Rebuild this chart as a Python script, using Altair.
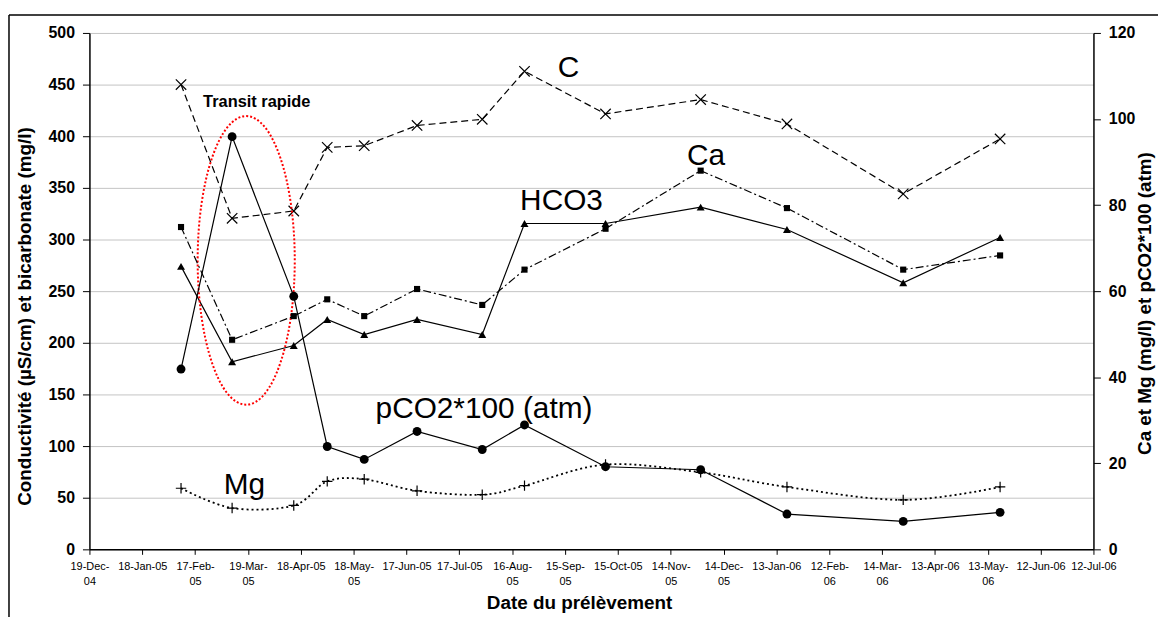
import json
import pandas as pd
import altair as alt

# ---------------- data ----------------
origin = "2004-12-19"
dates = ["2005-02-09", "2005-03-10", "2005-04-14", "2005-05-03", "2005-05-24",
         "2005-06-23", "2005-07-30", "2005-08-23", "2005-10-08", "2005-12-01",
         "2006-01-19", "2006-03-26", "2006-05-20"]
cond = [450, 320.5, 327.6, 389.2, 390.8, 410.4, 416.4, 462.9, 421.6, 435.5, 411.9, 344.2, 397.4]
hco3 = [274, 181.6, 197.4, 222.6, 208, 222.6, 208, 315.5, 315.5, 331.3, 309.7, 258.1, 302]
ca = [74.9, 48.7, 54.2, 58.1, 54.2, 60.5, 56.8, 65.0, 74.5, 88.0, 79.3, 65.0, 68.3]
mg = [14.2, 9.6, 10.2, 15.8, 16.3, 13.6, 12.7, 14.8, 19.7, 17.9, 14.5, 11.5, 14.5]
pco2 = [41.9, 95.9, 58.8, 23.9, 20.9, 27.4, 23.2, 28.9, 19.2, 18.5, 8.2, 6.5, 8.6]

tick_labels = ["19-Dec-|04", "18-Jan-05", "17-Feb-|05", "19-Mar-|05", "18-Apr-05",
               "18-May-|05", "17-Jun-05", "17-Jul-05", "16-Aug-|05", "15-Sep-|05",
               "15-Oct-05", "14-Nov-|05", "14-Dec-|05", "13-Jan-06", "12-Feb-|06",
               "14-Mar-|06", "13-Apr-06", "13-May-|06", "12-Jun-06", "12-Jul-06"]

big_labels = ["C", "Ca", "HCO3", "pCO2*100 (atm)", "Mg"]
big_label_dates = ["2005-09-17", "2005-12-04", "2005-09-13", "2005-07-31", "2005-03-17"]
big_label_values = [457.4, 372.3, 329, 127.3, 53.6]
note_text = ["Transit rapide"]
note_dates = ["2005-03-24"]
note_values = [428.6]
ellipse_dates = ["2005-03-18"]
ellipse_values = [279.8]

# ---------------- helpers ----------------
t0 = pd.Timestamp(origin)


def to_days(ds):
    return [(pd.Timestamp(d) - t0).days for d in ds]


days = to_days(dates)


def frame(vals):
    return pd.DataFrame({"day": days, "value": vals})


W, H = 1011, 520
FONT = "Liberation Sans, Arial, sans-serif"

label_expr = "split(" + json.dumps(tick_labels) + "[round(datum.value / 30)], '|')"

x_enc = alt.X(
    "day:Q",
    scale=alt.Scale(domain=[0, 570], nice=False, zero=False),
    axis=alt.Axis(
        values=list(range(0, 571, 30)), labelExpr=label_expr,
        title="Date du prélèvement", titleFont=FONT, titleFontSize=19,
        titleFontWeight="bold", titleColor="black", titleX=493, titleY=59.7,
        titleBaseline="alphabetic", titleAlign="center",
        labelFont=FONT, labelFontSize=11, labelLineHeight=15,
        labelColor="black", labelPadding=6, labelOverlap=False, labelFlush=False,
        tickColor="black", tickSize=5, tickWidth=1,
        domainColor="black", domainWidth=1.5, grid=False,
    ),
)

left_axis = alt.Axis(
    values=list(range(0, 501, 50)), orient="left",
    title="Conductivité (µS/cm) et bicarbonate (mg/l)", titleFont=FONT,
    titleFontSize=19, titleFontWeight="bold", titleColor="black",
    titleX=-65, titleY=285, titleAngle=270, titleBaseline="middle", titleAlign="center",
    labelFont=FONT, labelFontSize=16, labelFontWeight="bold", labelColor="black",
    labelPadding=8, tickColor="black", tickSize=7, tickWidth=1,
    domainColor="black", domainWidth=1.5,
    grid=True, gridColor="#c4c4c4", gridWidth=1,
)
right_axis = alt.Axis(
    values=list(range(0, 121, 20)), orient="right",
    title="Ca et Mg (mg/l) et pCO2*100 (atm)", titleFont=FONT,
    titleFontSize=19, titleFontWeight="bold", titleColor="black",
    titleX=51, titleY=272, titleAngle=270, titleBaseline="middle", titleAlign="center",
    labelFont=FONT, labelFontSize=16, labelFontWeight="bold", labelColor="black",
    labelPadding=8, tickColor="black", tickSize=7, tickWidth=1,
    domainColor="black", domainWidth=1.5, grid=False,
)


def yl():
    return alt.Y("value:Q", scale=alt.Scale(domain=[0, 500], nice=False), axis=left_axis)


def yr():
    return alt.Y("value:Q", scale=alt.Scale(domain=[0, 120], nice=False), axis=right_axis)


XPATH = "M-1,-1L1,1M-1,1L1,-1"
PLUS = "M-1,0L1,0M0,-1L0,1"
ELLIPSE = "M0,-1A0.3365,1,0,1,1,0,1A0.3365,1,0,1,1,0,-1Z"

one = pd.DataFrame({"a": [0]})
border_left = alt.Chart(one).mark_rule(color="black", strokeWidth=1.5).encode(
    x=alt.value(-81), x2=alt.value(-81), y=alt.value(-18), y2=alt.value(H + 70))
border_top = alt.Chart(one).mark_rule(color="black", strokeWidth=1.5).encode(
    x=alt.value(-81), x2=alt.value(W + 70), y=alt.value(-18), y2=alt.value(-18))

c_df, h_df = frame(cond), frame(hco3)
c_line = alt.Chart(c_df).mark_line(color="black", strokeWidth=1.2, strokeDash=[7, 4]).encode(x=x_enc, y=yl())
c_pts = alt.Chart(c_df).mark_point(shape=XPATH, size=110, filled=False, color="black",
                                   strokeWidth=1.2, opacity=1).encode(x=x_enc, y=yl())
h_line = alt.Chart(h_df).mark_line(color="black", strokeWidth=1.2).encode(x=x_enc, y=yl())
h_pts = alt.Chart(h_df).mark_point(shape="triangle-up", size=64, filled=True, color="black",
                                   opacity=1).encode(x=x_enc, y=yl())

ell_df = pd.DataFrame({"day": to_days(ellipse_dates), "value": ellipse_values})
ellipse = alt.Chart(ell_df).mark_point(shape=ELLIPSE, size=84449, filled=False, color="#ff0000",
                                       strokeWidth=2, strokeDash=[2, 2], opacity=1).encode(x=x_enc, y=yl())

big_df = pd.DataFrame({"day": to_days(big_label_dates), "value": big_label_values, "txt": big_labels})
big_txt = alt.Chart(big_df).mark_text(font=FONT, fontSize=30, color="black", align="center",
                                      baseline="alphabetic").encode(x=x_enc, y=yl(), text="txt:N")
note_df = pd.DataFrame({"day": to_days(note_dates), "value": note_values, "txt": note_text})
note_txt = alt.Chart(note_df).mark_text(font=FONT, fontSize=16.5, fontWeight="bold", color="black",
                                        align="center", baseline="alphabetic").encode(x=x_enc, y=yl(), text="txt:N")

left = alt.layer(border_left, border_top, c_line, c_pts, h_line, h_pts, ellipse, big_txt, note_txt)

ca_df, mg_df, p_df = frame(ca), frame(mg), frame(pco2)
ca_line = alt.Chart(ca_df).mark_line(color="black", strokeWidth=1.2, strokeDash=[8, 3, 2, 3]).encode(x=x_enc, y=yr())
ca_pts = alt.Chart(ca_df).mark_point(shape="square", size=38, filled=True, color="black",
                                     opacity=1).encode(x=x_enc, y=yr())
mg_line = alt.Chart(mg_df).mark_line(color="black", strokeWidth=1.8, strokeDash=[2, 3],
                                     interpolate="cardinal").encode(x=x_enc, y=yr())
mg_pts = alt.Chart(mg_df).mark_point(shape=PLUS, size=110, filled=False, color="black",
                                     strokeWidth=1.2, opacity=1).encode(x=x_enc, y=yr())
p_line = alt.Chart(p_df).mark_line(color="black", strokeWidth=1.2).encode(x=x_enc, y=yr())
p_pts = alt.Chart(p_df).mark_circle(size=80, color="black", opacity=1).encode(x=x_enc, y=yr())

right = alt.layer(ca_line, ca_pts, mg_line, mg_pts, p_line, p_pts)

chart = (
    alt.layer(left, right)
    .resolve_scale(y="independent")
    .properties(width=W, height=H, background="white",
                padding={"left": 82, "top": 23, "right": 65, "bottom": 66},
                autosize=alt.AutoSizeParams(type="none"))
    .configure_view(strokeWidth=0)
)

chart.save("out.html", embed_options={"renderer": "svg", "actions": False})
